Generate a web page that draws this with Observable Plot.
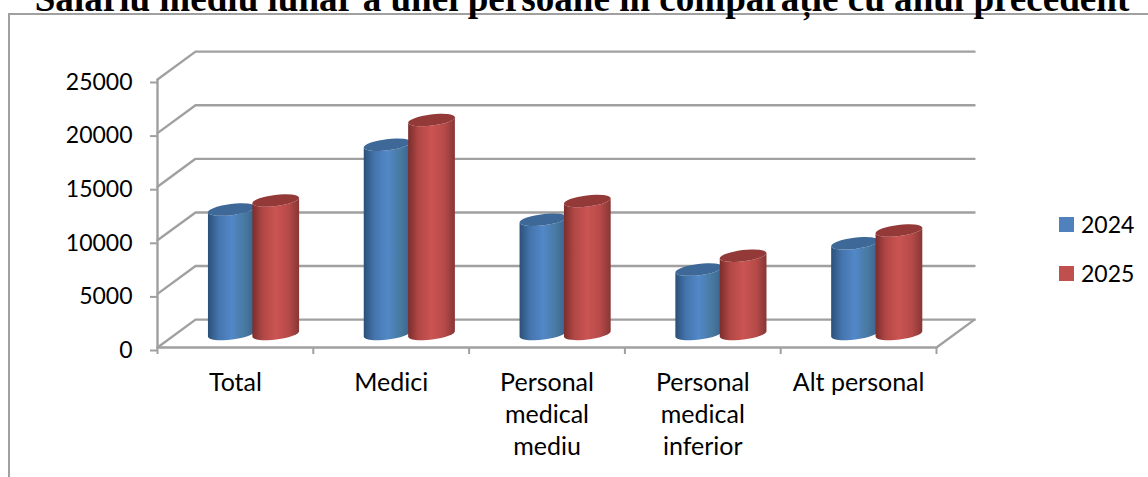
<!DOCTYPE html>
<html><head><meta charset="utf-8">
<script src="https://cdn.jsdelivr.net/npm/d3@7"></script>
<script src="https://cdn.jsdelivr.net/npm/@observablehq/plot@0.6"></script>
<style>
html,body{margin:0;padding:0;background:#fff;overflow:hidden}
#wrap{position:relative;width:1148px;height:477px;overflow:hidden}
#title{position:absolute;left:8px;top:-21px;width:1148px;text-align:center;font:bold 37.1px/40px "Liberation Serif",serif;color:#000;white-space:nowrap;z-index:2}
#frame{position:absolute;left:8px;top:13px;width:1200px;height:600px;border:2px solid #a0a0a0;box-sizing:border-box}
.lg{position:absolute;left:1059px;font:23px/28px Lato,sans-serif;color:#000;display:flex;align-items:center}
.lg i{display:inline-block;width:15px;height:15px;margin-right:7px}
svg{position:absolute;left:0;top:0}
</style></head><body><div id="wrap"><div id="frame"></div></div>
<script>
const titleText = "Salariu mediu lunar a unei persoane în comparație cu anul precedent";
const categories = ["Total","Medici","Personal\nmedical\nmediu","Personal\nmedical\ninferior","Alt personal"];
const series2024 = [11600,17650,10650,6000,8450];
const series2025 = [12450,19950,12400,7300,9650];
const years = ["2024","2025"];
const yearColors = ["#4f81bd","#c0504d"];
const yTicks = [0,5000,10000,15000,20000,25000];
const xTicks = [0,1,2,3,4,5];

const depthX = 0.244, depthY = 2600;
const axisColor = "#a0a0a0";
const font = "Lato, sans-serif";

const gridRows = yTicks.flatMap(v => [
  {v, x:0, y:v},
  {v, x:depthX, y:v+depthY},
  {v, x:5+depthX, y:v+depthY}
]);
const floorRows = [
  {x:5+depthX,y:depthY},{x:5,y:0},{x:0,y:0}
];

const gradients = [
  {id:"g2024", stops:[[0,"#2b5079"],[.22,"#4474ab"],[.5,"#5288c9"],[.78,"#48799f"],[1,"#3a618f"]], top:"#3d6897"},
  {id:"g2025", stops:[[0,"#7a2e2d"],[.22,"#b14745"],[.5,"#cb5452"],[.78,"#b54a48"],[1,"#873635"]], top:"#933a39"}
];
const cyl = [
  {key:0, values:series2024, left:0.327, right:0.63},
  {key:1, values:series2025, left:0.612, right:0.912}
];
function cylinders(index,{x,y}){
  const g = d3.create("svg:g");
  const defs = g.append("defs");
  gradients.forEach(gr=>{
    const lg = defs.append("linearGradient").attr("id",gr.id);
    gr.stops.forEach(s=>lg.append("stop").attr("offset",s[0]).attr("stop-color",s[1]));
  });
  const tilt = 7, ry = 5.6, base = depthY/2 - 80;
  const s = Math.sin(tilt*Math.PI/180), c = Math.cos(tilt*Math.PI/180);
  categories.forEach((_,i)=>{
    cyl.forEach(k=>{
      const v = k.values[i], gr = gradients[k.key];
      const xl = x(i+k.left), xr = x(i+k.right);
      const cx = (xl+xr)/2, rx = (xr-xl)/2/c;
      const yb = y(base), yt = y(base+v);
      const dy = rx*s;
      g.append("path").attr("fill",`url(#${gr.id})`)
        .attr("d",`M${xl},${yt+dy}L${xl},${yb+dy}A${rx},${ry},${-tilt},0,0,${xr},${yb-dy}L${xr},${yt-dy}A${rx},${ry},${-tilt},0,1,${xl},${yt+dy}Z`);
      g.append("ellipse").attr("fill",gr.top)
        .attr("cx",cx).attr("cy",yt).attr("rx",rx).attr("ry",ry)
        .attr("transform",`rotate(${-tilt} ${cx} ${yt})`);
    });
  });
  return g.node();
}

const plot = Plot.plot({
  width:1148, height:477,
  marginLeft:157, marginRight:212, marginTop:79, marginBottom:130,
  x:{type:"linear",domain:[0,5]},
  y:{type:"linear",domain:[0,25000]},
  style:{background:"transparent",fontFamily:font},
  marks:[
    Plot.line(gridRows,{x:"x",y:"y",z:"v",stroke:axisColor,strokeWidth:2.4}),
    Plot.line(floorRows,{x:"x",y:"y",stroke:axisColor,strokeWidth:2.4}),
    Plot.ruleX([0],{y1:0,y2:25000,stroke:axisColor,strokeWidth:2.4}),
    Plot.axisY({ticks:yTicks,tickSize:7,stroke:axisColor,strokeWidth:2,tickPadding:18,fontSize:23,fill:"#000",label:null,tickFormat:d=>String(d),dy:3,textStroke:"none"}),
    Plot.axisX({ticks:xTicks,tickSize:7,stroke:axisColor,strokeWidth:2,tickFormat:()=>"",label:null}),
    cylinders,
    Plot.text(categories,{x:(d,i)=>i+0.5,y:0,dy:21,text:d=>d,lineAnchor:"top",lineHeight:1.28,fontSize:25,fill:"#000"})
  ]
});
const wrap = document.getElementById("wrap");
wrap.appendChild(plot);
const t = document.createElement("div"); t.id="title"; t.textContent=titleText; wrap.appendChild(t);
years.forEach((yr,i)=>{
  const d=document.createElement("div"); d.className="lg"; d.style.top=(210+i*49)+"px";
  d.innerHTML=`<i style="background:${yearColors[i]}"></i>${yr}`; wrap.appendChild(d);
});
</script></body></html>
